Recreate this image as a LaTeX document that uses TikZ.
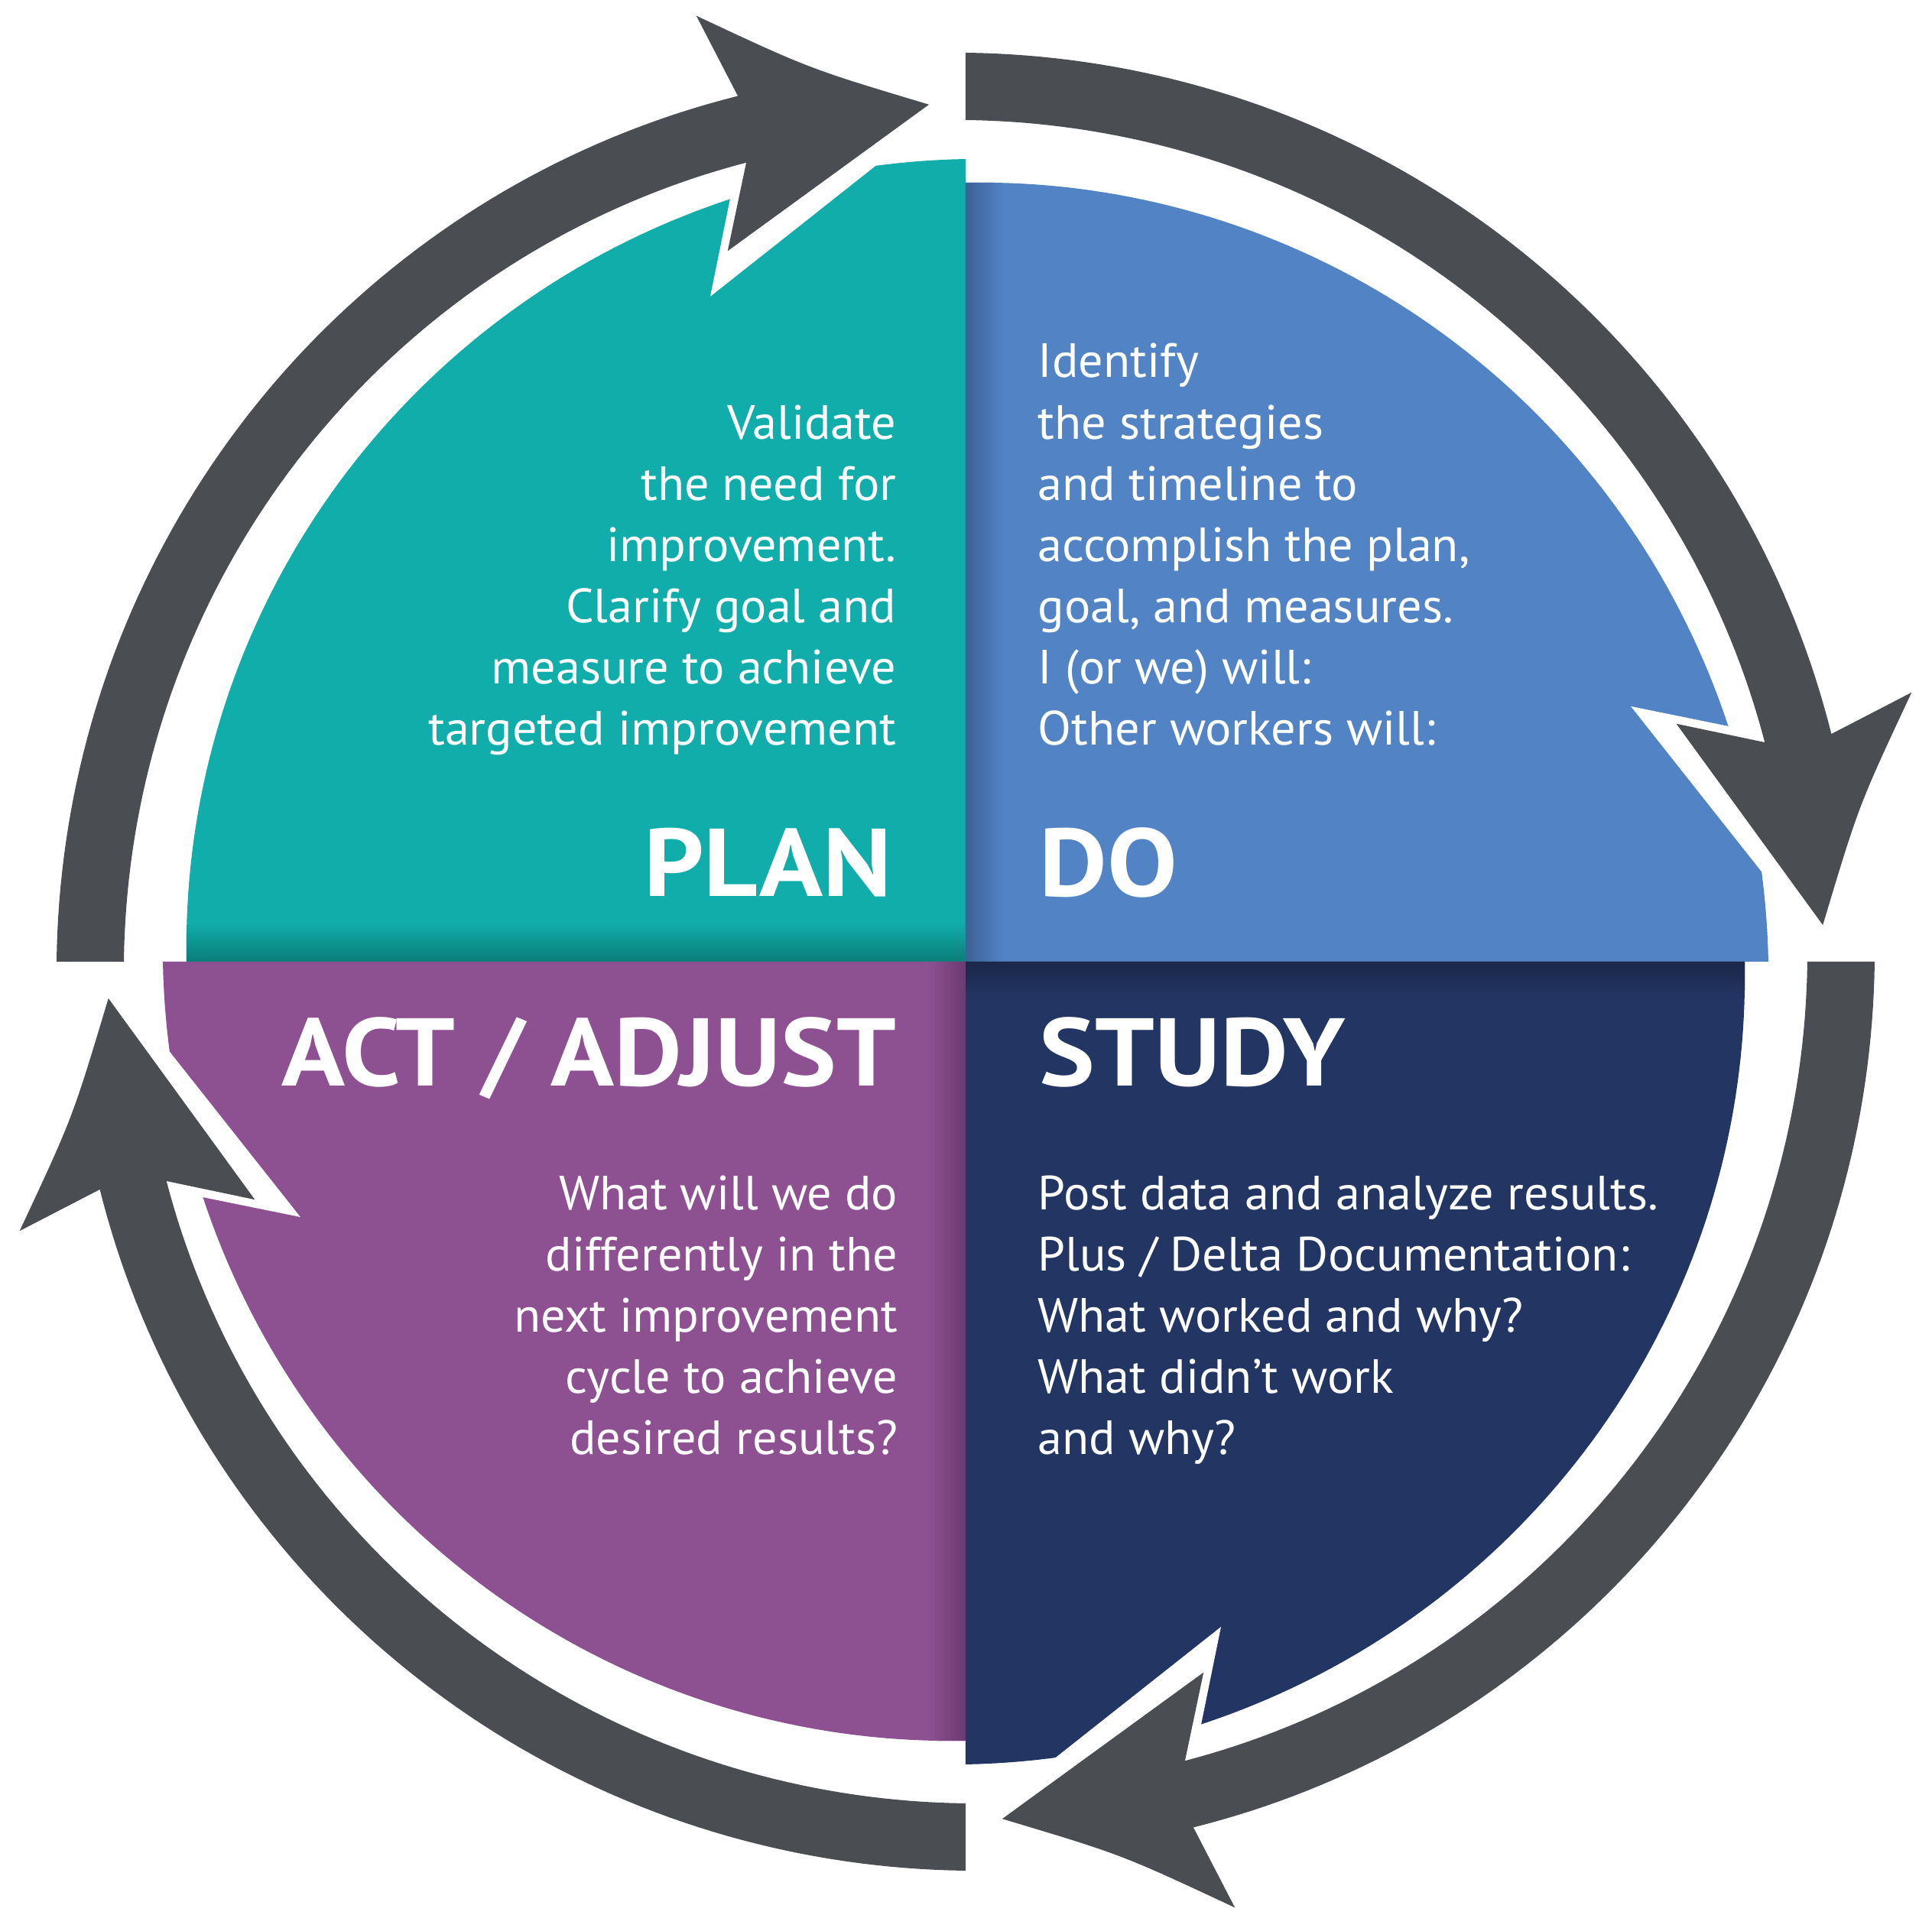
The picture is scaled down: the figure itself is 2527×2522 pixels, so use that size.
\documentclass[tikz,border=0pt]{standalone}
\usepackage{fontspec}
\setmainfont{PT Sans}[FakeStretch=1.02]
\newfontfamily\headfont{PT Sans}[FakeStretch=1.09]
\definecolor{cteal}{HTML}{10ADAA}
\definecolor{ctealD}{HTML}{0B7F7B}
\definecolor{cblue}{HTML}{5283C4}
\definecolor{cblueD}{HTML}{3E6296}
\definecolor{cnavy}{HTML}{233563}
\definecolor{cnavyD}{HTML}{1B284B}
\definecolor{cpurple}{HTML}{8D5192}
\definecolor{cpurpleD}{HTML}{6E3C73}
\definecolor{cgray}{HTML}{4A4E52}
\begin{document}
\begin{tikzpicture}[x=0.01cm,y=0.01cm,
  ringseg/.style={fill=cgray},
  gapcut/.style={fill=white},
  bodytext/.style={text=white, inner sep=0pt, font=\fontsize{17.9pt}{22.8pt}\selectfont},
  headtext/.style={text=white, inner sep=0pt, font=\headfont\bfseries\fontsize{35.8pt}{40pt}\selectfont}]
\useasboundingbox[fill=white] (-1263,-1264) rectangle (1264,1258);
\foreach \rot/\col/\dk in {0/cteal/ctealD,-90/cblue/cblueD,-180/cnavy/cnavyD,-270/cpurple/cpurpleD}{
  \begin{scope}[rotate=\rot]
    \begin{scope}
      \clip (0,0) -- plot[domain=180:90,samples=90] (\x:{1019+31*(180-\x)/90}) -- cycle;
      \fill[\col] (-1100,-5) rectangle (5,1100);
      \foreach \i [evaluate=\i as \pc using int(100*\i/12)] in {0,...,11}{
        \fill[\col!\pc!\dk] (-1100,{\i*4-0.5}) rectangle (5,{\i*4+4.5});
      }
    \end{scope}
    \fill[gapcut] (111.0:932) -- (106.1:1081) -- (93.8:1080) -- cycle;
    \fill[ringseg] plot[domain=180:104.74,samples=80] (\x:{1189-18*(180-\x)/75.26})
      -- (105.89:1286.5) .. controls (99.92:1185.8) .. (92.45:1122.3)
      -- (108.51:980.4) -- (105.35:1084)
      -- plot[domain=105.35:180,samples=80] (\x:{1101-17*(180-\x)/74.65}) -- cycle;
  \end{scope}
}
% multi-line nodes: base anchor = baseline of the last line
\node[bodytext, align=right, anchor=base east] (planbody) at (-90,283)
  {Validate\\the need for\\improvement.\\Clarify goal and\\measure to achieve\\targeted improvement};
\node[bodytext, align=left, anchor=base west] (dobody) at (94,283)
  {Identify\\the strategies\\and timeline to\\accomplish the plan,\\goal, and measures.\\I (or we) will:\\Other workers will:};
\node[bodytext, align=right, anchor=base east] (actbody) at (-88,-645)
  {What will we do\\differently in the\\next improvement\\cycle to achieve\\desired results?};
\node[bodytext, align=left, anchor=base west] (studybody) at (94,-645)
  {Post data and analyze results.\\Plus / Delta Documentation:\\What worked and why?\\What didn’t work\\and why?};
\node[headtext, anchor=base east] (plan) at (-96,85) {PLAN};
\node[headtext, anchor=base west] (do) at (96,85) {DO};
\node[headtext, anchor=base east] (act) at (-90,-163) {ACT / ADJUST};
\node[headtext, anchor=base west] (study) at (96,-163) {STUDY};
\end{tikzpicture}
\end{document}
